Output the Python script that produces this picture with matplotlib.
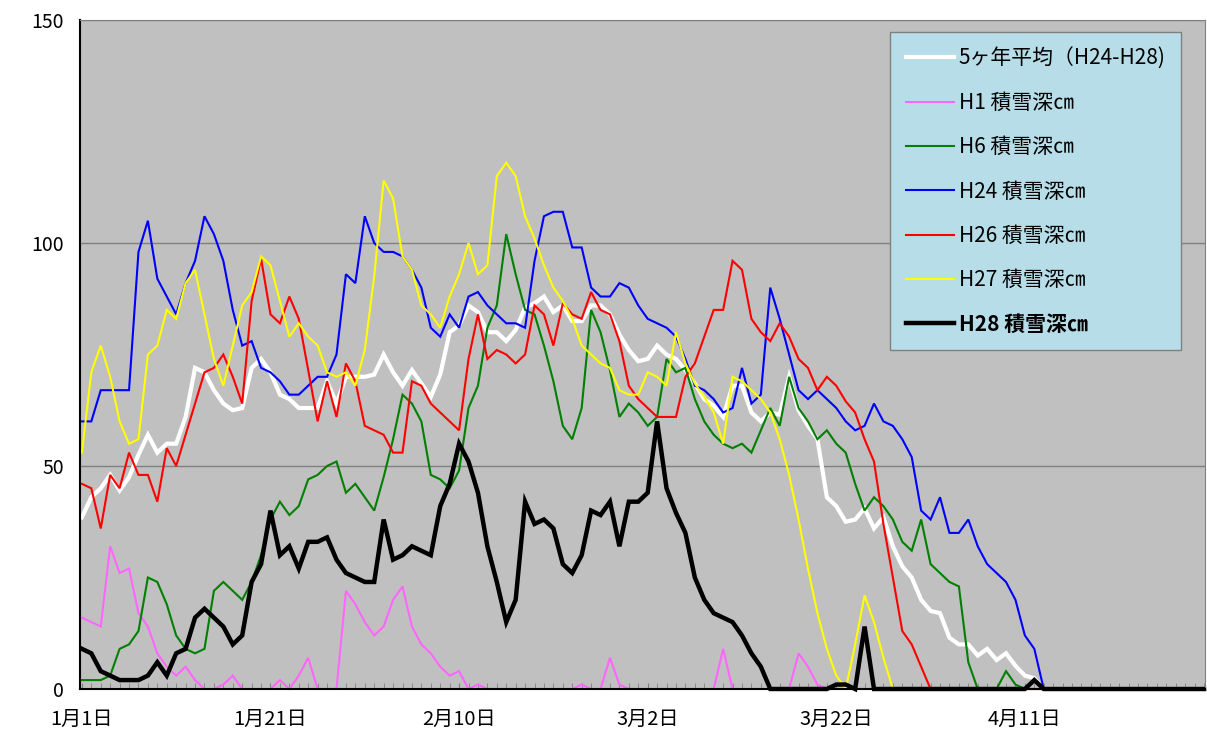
# 積雪深の推移（1月1日〜4月30日）
import numpy as np
import matplotlib
matplotlib.use("Agg")
import matplotlib.pyplot as plt
from matplotlib.ticker import MultipleLocator, FixedLocator

plt.rcParams['font.family'] = ['Noto Sans CJK JP', 'DejaVu Sans']

# 日ごとの積雪深 (cm)、1月1日から4月30日まで
avg5 = [38.5, 43, 45, 48, 44.5, 47.5, 52.5, 57, 53, 55,
        55, 61, 72, 71, 67, 64, 62.5, 63, 72, 74,
        71, 66, 65, 63, 63, 63, 69, 64, 70, 70,
        70, 70.5, 75, 71, 68, 71.5, 68.5, 65.5, 70.5, 80,
        81.5, 86, 84.5, 80, 80, 78, 80.5, 85.5, 86.5, 88,
        84.5, 86, 82.5, 82.5, 86, 86, 84, 79.5, 76, 73.5,
        74, 77, 75, 74, 71.5, 68.5, 65, 63.5, 61, 68,
        68, 62, 60, 62, 61.5, 70, 62.5, 59, 56, 43,
        41, 37.5, 38, 40.5, 36, 38.5, 32, 27.5, 25, 20,
        17.5, 17, 11.5, 10, 10, 7.5, 9, 6.5, 8, 5.2,
        3, 2.4, 0, 0, 0, 0, 0, 0, 0, 0,
        0, 0, 0, 0, 0, 0, 0, 0, 0, 0]
h1 = [16, 15, 14, 32, 26, 27, 17, 14, 8, 5,
      3, 5, 2, 0, 0, 1, 3, 0, 0, 0,
      0, 2, 0, 3, 7, 0, 0, 0, 22, 19,
      15, 12, 14, 20, 23, 14, 10, 8, 5, 3,
      4, 0, 1, 0, 0, 0, 0, 0, 0, 0,
      0, 0, 0, 1, 0, 0, 7, 1, 0, 0,
      0, 0, 0, 0, 0, 0, 0, 0, 9, 0,
      0, 0, 0, 0, 0, 0, 8, 5, 1, 0,
      0, 0, 0, 0, 0, 0, 0, 0, 0, 0,
      0, 0, 0, 0, 0, 0, 0, 0, 0, 0,
      0, 0, 0, 0, 0, 0, 0, 0, 0, 0,
      0, 0, 0, 0, 0, 0, 0, 0, 0, 0]
h6 = [2, 2, 2, 3, 9, 10, 13, 25, 24, 19,
      12, 9, 8, 9, 22, 24, 22, 20, 24, 30,
      38, 42, 39, 41, 47, 48, 50, 51, 44, 46,
      43, 40, 47.5, 56, 66, 64, 60, 48, 47, 45,
      49, 63, 68, 81, 86, 102, 93, 85, 84, 77,
      69, 59, 56, 63, 85, 80, 71.5, 61, 64, 62,
      59, 61, 74, 71, 72, 65, 60, 57, 55, 54,
      55, 53, 58, 63, 59, 70, 63, 60, 56, 58,
      55, 53, 46, 40, 43, 41, 38, 33, 31, 38,
      28, 26, 24, 23, 6, 0, 0, 0, 4, 1,
      0, 0, 0, 0, 0, 0, 0, 0, 0, 0,
      0, 0, 0, 0, 0, 0, 0, 0, 0, 0]
h24 = [60, 60, 67, 67, 67, 67, 98, 105, 92, 88,
       84, 91, 96, 106, 102, 96, 85, 77, 78, 72,
       71, 69, 66, 66, 68, 70, 70, 75, 93, 91,
       106, 100, 98, 98, 97, 94, 90, 81, 79, 84,
       81, 88, 89, 86, 84, 82, 82, 81, 96, 106,
       107, 107, 99, 99, 90, 88, 88, 91, 90, 86,
       83, 82, 81, 79, 74, 68, 67, 65, 62, 63,
       72, 64, 66, 90, 83, 75, 67, 65, 67, 65,
       63, 60, 58, 59, 64, 60, 59, 56, 52, 40,
       38, 43, 35, 35, 38, 32, 28, 26, 24, 20,
       12, 9, 0, 0, 0, 0, 0, 0, 0, 0,
       0, 0, 0, 0, 0, 0, 0, 0, 0, 0]
h26 = [46, 45, 36, 48, 45, 53, 48, 48, 42, 54,
       50, 57, 64, 71, 72, 75, 70, 64, 87, 96.5,
       84, 82, 88, 83, 71.5, 60, 69, 61, 73, 69,
       59, 58, 57, 53, 53, 69, 68, 64, 62, 60,
       58, 74, 84, 74, 76, 75, 73, 75, 86, 84,
       77, 86.5, 84, 83, 89, 85, 84, 78, 68, 65,
       63, 61, 61, 61, 70, 73, 79, 85, 85, 96,
       94, 83, 80, 78, 82, 79, 74, 72, 67, 70,
       68, 64.5, 62, 56, 51, 37, 25, 13, 10, 5,
       0, 0, 0, 0, 0, 0, 0, 0, 0, 0,
       0, 0, 0, 0, 0, 0, 0, 0, 0, 0,
       0, 0, 0, 0, 0, 0, 0, 0, 0, 0]
h27 = [53, 71, 77, 70, 60, 55, 56, 75, 77, 85,
       83, 91, 94, 84, 74, 68, 77, 86, 89, 97,
       95, 87, 79, 82, 79, 77, 71, 70, 71, 68,
       76, 92.5, 114, 110, 97, 94, 86, 84, 81, 88,
       93, 100, 93, 95, 115, 118, 115, 106, 101, 95,
       90, 87, 83, 77, 75, 73, 72, 67, 66, 66,
       71, 70, 68, 80, 73, 68.5, 65.5, 62, 55, 70,
       69, 67, 65, 62, 56, 48, 38, 27, 17, 9,
       3, 0, 10, 21, 15, 7, 0, 0, 0, 0,
       0, 0, 0, 0, 0, 0, 0, 0, 0, 0,
       0, 0, 0, 0, 0, 0, 0, 0, 0, 0,
       0, 0, 0, 0, 0, 0, 0, 0, 0, 0]
h28 = [9, 8, 4, 3, 2, 2, 2, 3, 6, 3,
       8, 9, 16, 18, 16, 14, 10, 12, 24, 28,
       40, 30, 32, 27, 33, 33, 34, 29, 26, 25,
       24, 24, 38, 29, 30, 32, 31, 30, 41, 46,
       55, 51, 44, 32, 24, 15, 20, 42, 37, 38,
       36, 28, 26, 30, 40, 39, 42, 32, 42, 42,
       44, 60, 45, 39.5, 35, 25, 20, 17, 16, 15,
       12, 8, 5, 0, 0, 0, 0, 0, 0, 0,
       1, 1, 0, 14, 0, 0, 0, 0, 0, 0,
       0, 0, 0, 0, 0, 0, 0, 0, 0, 0,
       0, 2, 0, 0, 0, 0, 0, 0, 0, 0,
       0, 0, 0, 0, 0, 0, 0, 0, 0, 0]

labels = ["5ヶ年平均（H24-H28)", "H1 積雪深㎝", "H6 積雪深㎝", "H24 積雪深㎝",
          "H26 積雪深㎝", "H27 積雪深㎝", "H28 積雪深㎝"]
date_labels = ["1月1日", "1月21日", "2月10日", "3月2日", "3月22日", "4月11日"]
date_pos = [0, 20, 40, 60, 80, 100]

series = [avg5, h1, h6, h24, h26, h27, h28]
colors = ["white", "#FF66FF", "#008000", "#0000FF", "#FF0000", "#FFFF00", "black"]
widths = [3.0, 1.5, 1.5, 1.5, 1.5, 1.5, 3.2]

fig = plt.figure(figsize=(12.07, 7.31), dpi=100)
ax = fig.add_axes([80 / 1207, 42 / 731, 1125 / 1207, 669 / 731])
ax.set_facecolor("#C0C0C0")

x = np.arange(len(avg5))
for y, c, w, lab in zip(series, colors, widths, labels):
    ax.plot(x, y, color=c, lw=w, label=lab, clip_on=False,
            solid_joinstyle="miter")

ax.set_xlim(-0.2, 119.1)
ax.set_ylim(0, 150)

# グリッド線
ax.set_yticks([0, 50, 100, 150])
ax.yaxis.grid(True, color="#808080", lw=1)
ax.set_axisbelow(True)
ax.tick_params(axis="y", length=0, pad=11.5, labelsize=14)

ax.xaxis.set_major_locator(FixedLocator(date_pos))
ax.set_xticklabels(date_labels)
ax.xaxis.set_minor_locator(MultipleLocator(1))
ax.tick_params(axis="x", which="both", direction="in", length=4,
               color="#808080", labelsize=14.5, pad=14)

for s in ["top", "right"]:
    ax.spines[s].set_color("#808080")
for s in ["left", "bottom"]:
    ax.spines[s].set_color("black")
    ax.spines[s].set_linewidth(1.5)

leg = ax.legend(loc="upper left", bbox_to_anchor=(890 / 1207, 1 - 32 / 731),
                bbox_transform=fig.transFigure, fontsize=15, frameon=True,
                fancybox=False, framealpha=1, handlelength=2.3,
                handletextpad=0.25, labelspacing=1.07, borderpad=0.75,
                borderaxespad=0)
leg.get_frame().set_facecolor("#B7DEE8")
leg.get_frame().set_edgecolor("#808080")
leg.get_texts()[-1].set_fontweight("bold")

fig.savefig("out.png", dpi=100)
